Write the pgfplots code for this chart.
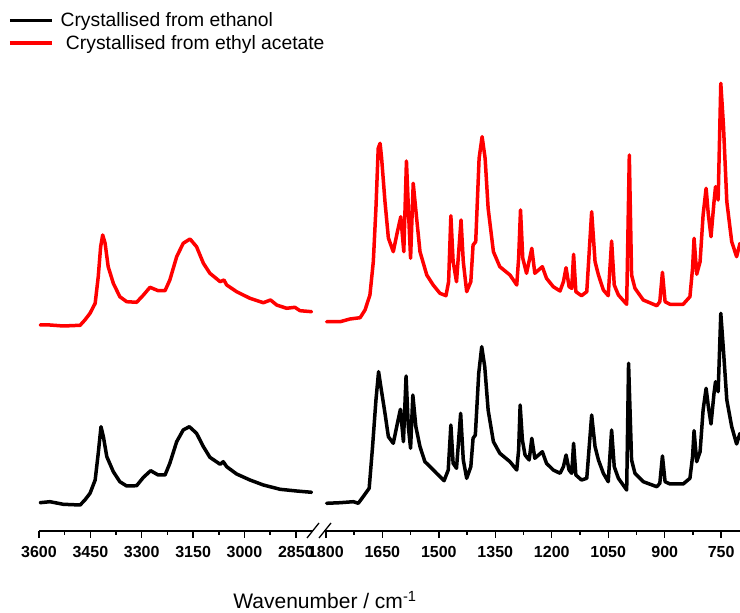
\documentclass[border=0pt]{standalone}
\usepackage{pgfplots}
\pgfplotsset{compat=1.18}
\usepackage{fontspec}
\setmainfont{Liberation Sans}
\begin{document}
\begin{tikzpicture}[x=1pt,y=1pt]
\path[use as bounding box] (0,-82) rectangle (740,531);
\pgfplotsset{
  irax/.style={
    scale only axis, height=531pt, ymin=0, ymax=531,
    x dir=reverse,
    axis x line*=bottom, axis y line=none, ytick=\empty,
    axis line style={line width=1.6pt, black},
    tick align=outside,
    major tick length=7pt, minor tick length=4pt,
    every tick/.style={line width=1.4pt, black},
    xticklabel style={font=\fontsize{16}{16}\selectfont\bfseries, yshift=-4.5pt},
    /pgf/number format/assume math mode=true,
    /pgf/number format/set thousands separator={},
    anchor=south west,
    every axis plot/.append style={line join=round, line cap=round},
  },
}
\begin{axis}[irax, at={(39pt,0pt)}, width=274pt, xmin=2800, xmax=3600,
  xtick={2850,3000,3150,3300,3450,3600},
  minor xtick={2925,3075,3225,3375,3525},
  legend style={at={(-0.113,0.98)}, anchor=north west, draw=none, fill=none,
    font=\fontsize{19.3}{22}\selectfont, inner sep=0pt, row sep=3pt, column sep=5pt},
  legend cell align=left,
  legend image code/.code={\draw[#1, line width=3.4pt, line cap=butt] (0pt,0pt) -- (42pt,0pt);},
]
\addplot[black, line width=3.5pt] coordinates {
(3597,28.3)(3568,29.3)(3529,26.7)(3480,26)(3466,31)(3451,37.7)(3436,51)(3427,77.7)
(3419,104.3)(3412,94.3)(3402,74.3)(3383,59.3)(3364,49.3)(3344,45)(3315,45.3)(3295,53.7)
(3274,60.3)(3252,56)(3232,56)(3218,67.7)(3198,89.3)(3179,101)(3161,104.3)(3140,97.7)
(3120,84.3)(3101,73.7)(3071,66.7)(3062,69.3)(3052,64.3)(3023,57)(2984,51)(2945,46)
(2896,41.7)(2848,40)(2804,38.7)
};
\addlegendentry{Crystallised from ethanol}
\addplot[red, line width=3.5pt] coordinates {
(3597,206)(3568,206)(3529,205)(3480,205.7)(3466,211)(3451,217.7)(3436,227.7)(3427,254.3)
(3420,284.3)(3414,296)(3407,287.7)(3398,264.3)(3383,247.7)(3364,234.3)(3344,229.3)(3315,228.7)
(3295,236)(3276,243.7)(3252,240.3)(3232,240.3)(3218,251)(3198,274.3)(3179,287.7)(3159,292)
(3140,284.3)(3120,267.7)(3101,257.7)(3071,249.3)(3060,251)(3052,246)(3023,239.3)(2984,232.7)
(2945,228.3)(2924,231)(2906,226)(2877,222.7)(2853,223.7)(2838,220.3)(2804,219.3)
};
\addlegendentry{\ Crystallised from ethyl acetate}
\end{axis}
\begin{axis}[irax, at={(324pt,0pt)}, width=416pt, xmin=700, xmax=1805,
  xtick={750,900,1050,1200,1350,1500,1650,1800},
  minor xtick={825,975,1125,1275,1425,1575,1725},
]
\addplot[black, line width=3.5pt] coordinates {
(1798,27.7)(1762,28.3)(1727,29.3)(1714,27.7)(1701,34.3)(1685,42.7)(1676,84.3)(1667,131)
(1660,159.3)(1654,144.3)(1643,117.7)(1634,94.3)(1621,87.7)(1610,107.7)(1602,121.7)(1594,89.3)
(1587,155)(1581,104.3)(1575,82.7)(1569,136)(1561,104.3)(1550,84.3)(1537,69.3)(1523,64.3)
(1506,57.7)(1486,50.3)(1475,61)(1468,106)(1462,67.7)(1453,62.7)(1442,117.7)(1435,71)
(1426,52.7)(1415,64.3)(1409,92.7)(1403,96)(1394,157.7)(1386,184.3)(1378,164.3)(1369,121)
(1355,89.3)(1338,77.7)(1311,69.3)(1293,61)(1288,81)(1284,126)(1278,91)(1271,76)(1260,71)
(1253,92.7)(1245,72.7)(1225,79.3)(1214,67.7)(1196,61)(1178,57.7)(1169,64.3)(1162,76)
(1154,61)(1147,57.7)(1142,87.7)(1136,56)(1121,51)(1107,52.7)(1094,116)(1085,84.3)(1076,71)
(1063,57.7)(1050,49.3)(1041,101)(1034,64.3)(1023,52.7)(1001,41)(996,167.7)(988,71)(979,57.7)
(957,49.3)(921,44.3)(913,47.7)(906,75)(899,49.3)(886,47)(851,47)(833,52.7)(826,74.3)
(822,100.3)(815,69.3)(806,79.3)(798,121)(790,142.7)(784,124.3)(777,107)(769,137.7)
(765,149.3)(758,139.3)(751,217.7)(744,181)(735,131)(722,104.3)(709,87)(700,97.7)
};
\addplot[red, line width=3.5pt] coordinates {
(1798,209.3)(1762,209.3)(1736,212)(1709,213.3)(1696,221)(1683,236)(1674,269.3)(1667,323)
(1661,382.7)(1656,387.7)(1652,373)(1643,329.3)(1634,293)(1621,279.3)(1610,299.3)(1601,314.3)
(1593,279.3)(1586,370)(1579,306)(1575,272.7)(1568,347.7)(1559,313)(1550,279.3)(1532,256)
(1515,246)(1497,237.7)(1481,235.3)(1474,249.3)(1468,315.3)(1462,269.3)(1453,249.3)(1441,311)
(1435,269.3)(1426,239.3)(1415,249.3)(1409,286)(1402,289.3)(1393,372.7)(1385,394.3)(1377,372.7)
(1369,322.7)(1355,279.3)(1338,264.3)(1311,256)(1293,246)(1288,272.7)(1283,321)(1277,272.7)
(1267,257.7)(1253,282.7)(1245,257.7)(1225,264.3)(1214,252.7)(1196,244.3)(1178,240)(1169,249.3)
(1162,263.3)(1154,244.3)(1147,242.7)(1142,276.7)(1136,239.3)(1121,235.3)(1107,239.3)(1094,319.3)
(1085,269.3)(1076,256)(1063,241)(1050,235.3)(1041,290)(1034,246)(1023,236)(1001,226.7)
(994,376)(988,256)(979,242.7)(957,231)(921,225.3)(913,229.3)(906,258.7)(899,229.3)(886,226.7)
(851,226.7)(833,234.3)(826,262.7)(822,292.7)(815,256.7)(806,269.3)(798,316)(790,342.7)
(784,316)(777,294.3)(769,329.3)(765,344.3)(758,331)(751,447.7)(744,406)(735,329.3)(722,289.3)
(709,274.3)(700,287.7)
};
\end{axis}
% axis break marks
\draw[line width=1.3pt] (307,-7) -- (319,8);
\draw[line width=1.3pt] (319,-7) -- (331,8);
\node[font=\fontsize{21}{21}\selectfont] at (325,-69) {Wavenumber / cm\textsuperscript{-1}};
\end{tikzpicture}
\end{document}
